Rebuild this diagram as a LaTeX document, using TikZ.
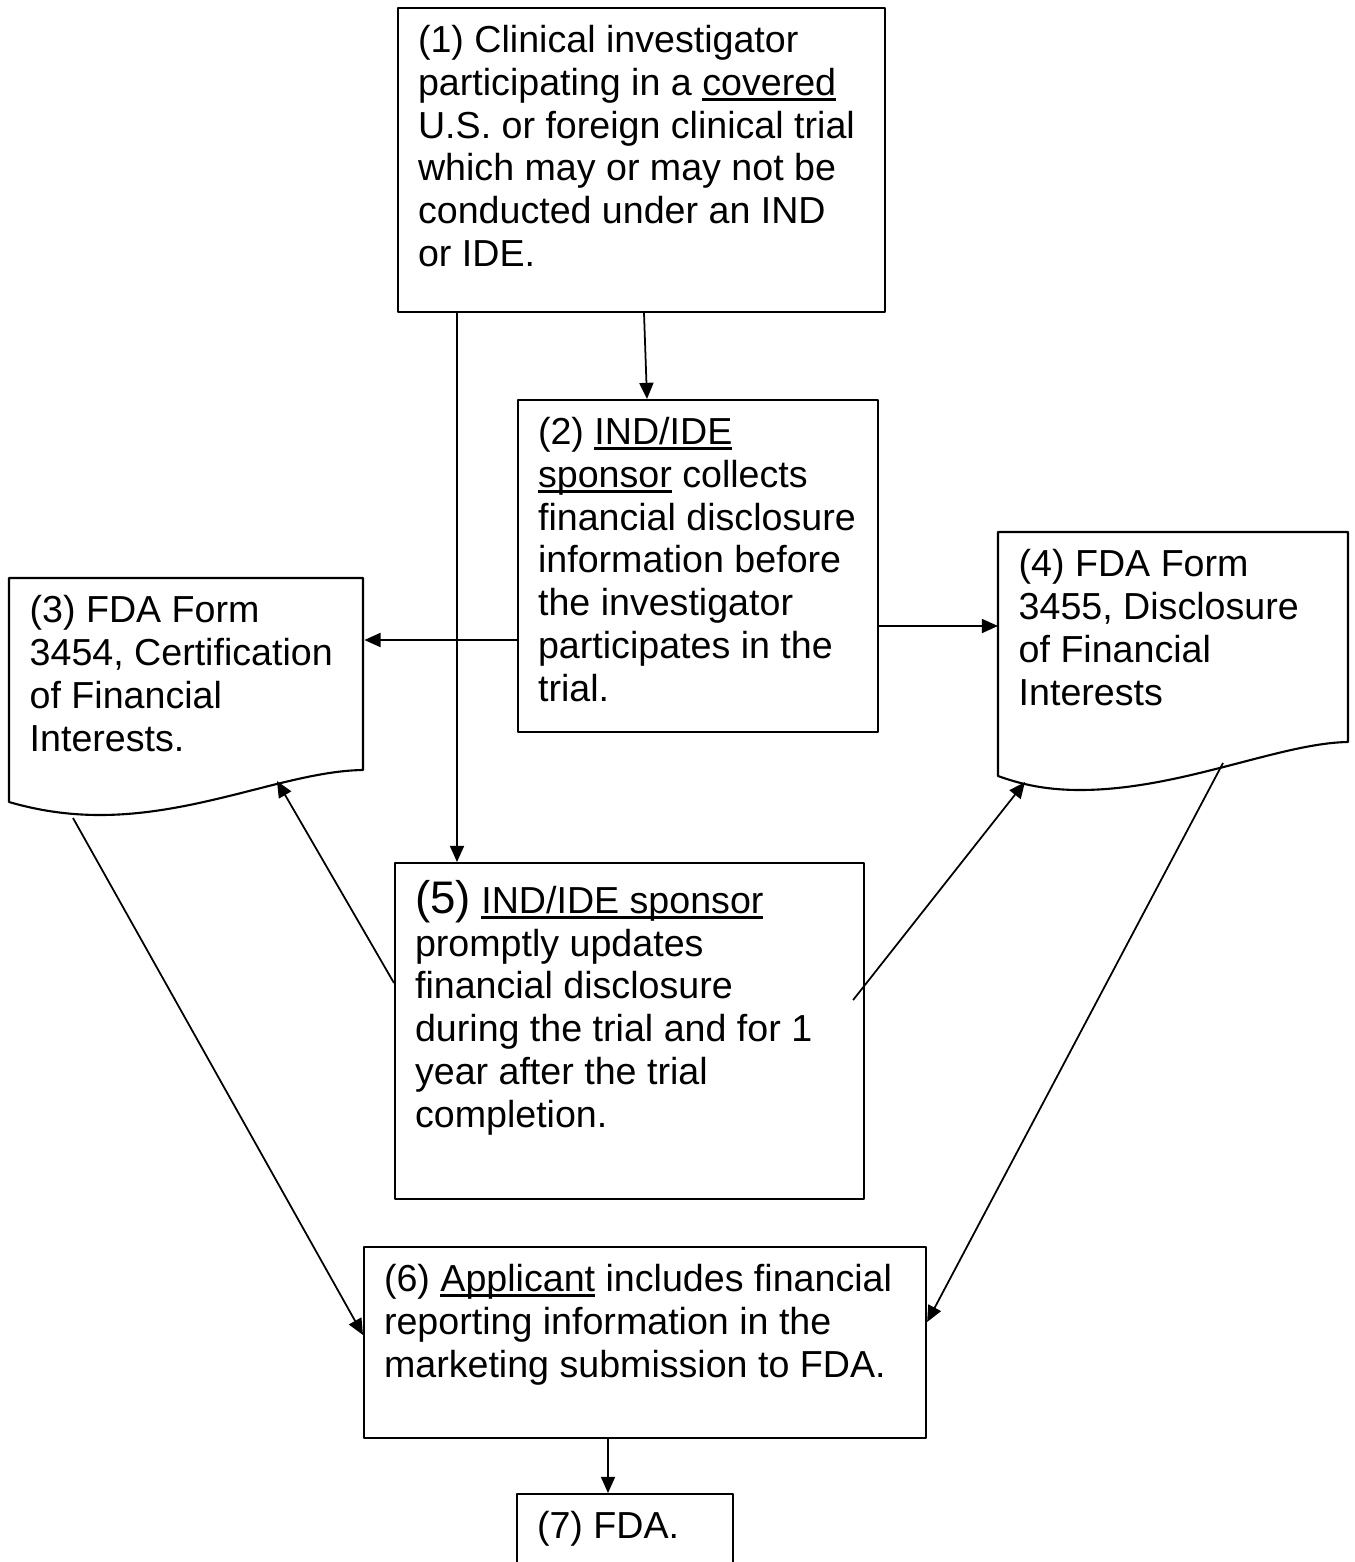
\documentclass[tikz,border=0pt]{standalone}
\usepackage{fontspec}
\setmainfont{Liberation Sans}
\usetikzlibrary{arrows.meta}
\newcommand{\fsz}{\fontsize{10.7}{12.2}\selectfont}
% underline at a fixed depth, through the descenders
\newsavebox{\ulbox}
\newcommand{\uln}[1]{\leavevmode\sbox{\ulbox}{#1}\rlap{\rule[-1.6pt]{\wd\ulbox}{0.7pt}}\usebox{\ulbox}}
% text block of a box: width, height, lines
\newcommand{\boxbody}[3]{\parbox[t][#2][t]{#1}{\raggedright #3}}
\tikzset{
	box/.style={draw, line width=0.6pt, anchor=north west, inner xsep=0.2cm, inner ysep=0.17cm, font=\fsz},
	doc/.style={anchor=north west, inner xsep=0.2cm, inner ysep=0.17cm, font=\fsz},
	link/.style={->, line width=0.5pt}
}
\begin{document}
\begin{tikzpicture}[line join=round, >={Triangle[length=4.6pt,width=4pt]}]
	\useasboundingbox (0,0) rectangle (13.55,-15.62);
	% boxes
	\node[box] (n1) at (3.97,-0.07) {\boxbody{4.47cm}{2.70cm}{(1) Clinical investigator\\ participating in a \uln{covered}\\ U.S. or foreign clinical trial\\ which may or may not be\\ conducted under an IND\\ or IDE.}};
	\node[box] (n2) at (5.17,-3.99) {\boxbody{3.20cm}{2.98cm}{(2) \uln{IND/IDE}\\ \uln{sponsor} collects\\ financial disclosure\\ information before\\ the investigator\\ participates in the\\ trial.}};
	\node[doc] (d3) at (0.09,-5.78) {\boxbody{3.14cm}{1.58cm}{(3) FDA Form\\ 3454, Certification\\ of Financial\\ Interests.}};
	\node[doc] (d4) at (9.98,-5.32) {\boxbody{3.10cm}{1.76cm}{(4) FDA Form\\ 3455, Disclosure\\ of Financial\\ Interests}};
	\node[box] (n5) at (3.94,-8.62) {\boxbody{4.29cm}{3.02cm}{{\fontsize{13}{12.2}\selectfont (5)} \uln{IND/IDE sponsor}\\ promptly updates\\ financial disclosure\\ during the trial and for 1\\ year after the trial\\ completion.}};
	\node[box] (n6) at (3.63,-12.46) {\boxbody{5.22cm}{1.57cm}{(6) \uln{Applicant} includes financial\\ reporting information in the\\ marketing submission to FDA.}};
	\node[box] (n7) at (5.16,-14.93) {\boxbody{1.76cm}{0.50cm}{(7) FDA.}};
	% document outlines
	\draw[line width=0.6pt] (d3.north west) -- (3.63,-5.78) -- (3.63,-7.70)
		.. controls (2.90,-7.71) and (2.00,-8.15) .. (1.00,-8.15)
		.. controls (0.60,-8.15) and (0.30,-8.08) .. (0.09,-8.02) -- cycle;
	\draw[line width=0.6pt] (d4.north west) -- (13.48,-5.32) -- (13.48,-7.42)
		.. controls (12.80,-7.43) and (11.80,-7.90) .. (10.80,-7.90)
		.. controls (10.40,-7.90) and (10.15,-7.82) .. (9.98,-7.76) -- cycle;
	\coordinate (d3in) at (2.77,-7.81);
	\coordinate (d3out) at (0.73,-8.18);
	\coordinate (d4in) at (10.25,-7.82);
	\coordinate (d4out) at (12.23,-7.63);
	% connectors
	\draw[link] ([xshift=0.60cm]n1.south west) -- ([xshift=0.60cm]n1.south west |- n5.north);
	\draw[link] ([xshift=2.47cm]n1.south west) -- ([xshift=1.30cm]n2.north west);
	\draw[link] ([yshift=-2.41cm]n2.north west) -- ([yshift=-2.41cm]n2.north west -| d3.east);
	\draw[link] ([yshift=-2.27cm]n2.north east) -- ([yshift=-2.27cm]n2.north east -| d4.west);
	\draw[link] ([yshift=-1.21cm]n5.north west) -- (d3in);
	\draw[link] ([xshift=-0.12cm,yshift=-1.38cm]n5.north east) -- (d4in);
	\draw[link] (d3out) -- ([yshift=-0.89cm]n6.north west);
	\draw[link] (d4out) -- ([yshift=-0.76cm]n6.north east);
	\draw[link] ([xshift=2.45cm]n6.south west) -- ([xshift=0.92cm]n7.north west);
\end{tikzpicture}
\end{document}
